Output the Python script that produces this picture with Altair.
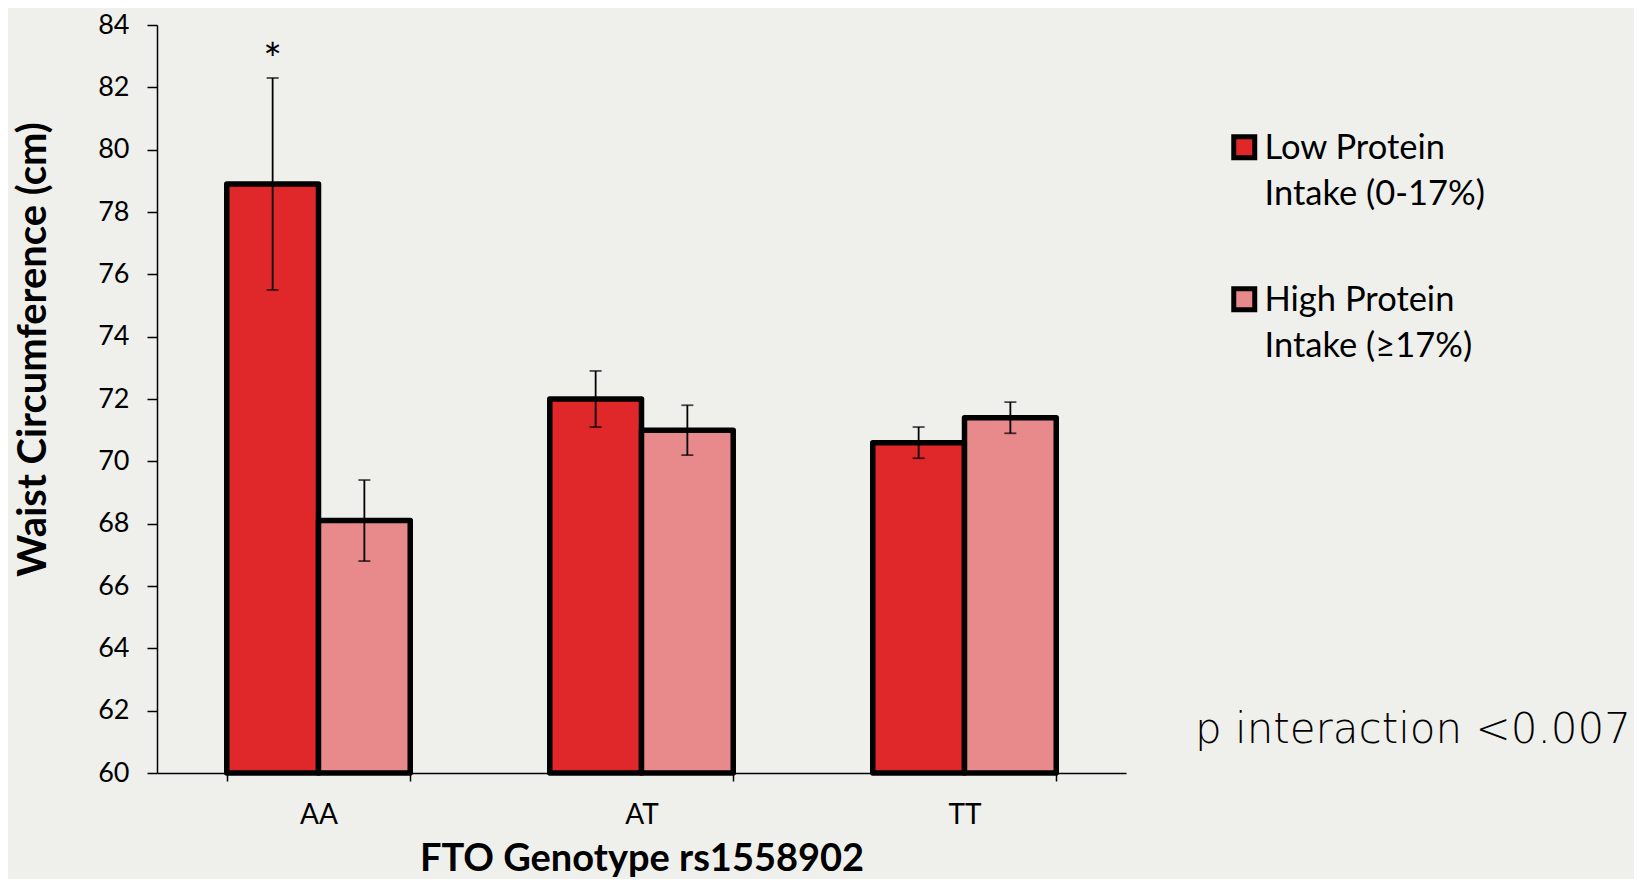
import altair as alt
import pandas as pd

genotypes = ["AA", "AT", "TT"]
groups = ["Low Protein|Intake (0-17%)", "High Protein|Intake (≥17%)"]
low_mean = [78.9, 72.0, 70.6]
low_hi = [82.3, 72.9, 71.1]
low_lo = [75.5, 71.1, 70.1]
high_mean = [68.1, 71.0, 71.4]
high_hi = [69.4, 71.8, 71.9]
high_lo = [66.8, 70.2, 70.9]
low_sig = ["*", "", ""]
high_sig = ["", "", ""]
y_ticks = [60, 62, 64, 66, 68, 70, 72, 74, 76, 78, 80, 82, 84]
colors = ["#E0282A", "#E8898B"]
p_label = ["p interaction <0.007"]

rows = []
for i, g in enumerate(genotypes):
    rows.append(dict(genotype=g, group=groups[0], mean=low_mean[i], lo=low_lo[i],
                     hi=low_hi[i], sig=low_sig[i], base=y_ticks[0]))
    rows.append(dict(genotype=g, group=groups[1], mean=high_mean[i], lo=high_lo[i],
                     hi=high_hi[i], sig=high_sig[i], base=y_ticks[0]))
df = pd.DataFrame(rows)

FONT = "Lato"

x_enc = alt.X(
    "genotype:N", sort=genotypes,
    scale=alt.Scale(paddingInner=0.432, paddingOuter=0.216),
    axis=alt.Axis(
        title="FTO Genotype rs1558902", labelAngle=0, tickBand="extent",
        labelFont=FONT, labelFontSize=28, labelColor="black", labelPadding=20,
        tickSize=8, tickColor="black", tickWidth=1.5,
        domainColor="black", domainWidth=1.5,
        titleFont=FONT, titleFontSize=38, titleFontWeight="bold", titleColor="black",
        titleY=97, titleBaseline="alphabetic",
    ),
)
xo_enc = alt.XOffset("group:N", sort=groups, scale=alt.Scale(paddingInner=0, paddingOuter=0))
y_scale = alt.Scale(domain=[60, 84], nice=False, zero=False)

symbol_path = "M-1,-2.14H1V-0.14H-1Z"

bars = alt.Chart(df).mark_bar(stroke="black", strokeWidth=5.5, strokeJoin="round").encode(
    x=x_enc,
    xOffset=xo_enc,
    y=alt.Y(
        "mean:Q", scale=y_scale,
        axis=alt.Axis(
            title="Waist Circumference (cm)", values=y_ticks, grid=False,
            labelFont=FONT, labelFontSize=27, labelColor="black", labelPadding=18,
            tickSize=10, tickColor="black", tickWidth=1.5,
            domainColor="black", domainWidth=1.5,
            titleFont=FONT, titleFontSize=40, titleFontWeight="bold", titleColor="black",
            titleX=-112, titleY=324, titleBaseline="alphabetic", titleAngle=270,
            titleAlign="center",
        ),
    ),
    y2="base:Q",
    fill=alt.Fill(
        "group:N", sort=groups,
        scale=alt.Scale(domain=groups, range=colors),
        legend=alt.Legend(
            orient="none", legendX=1070, legendY=117, title=None, padding=0,
            labelExpr="split(datum.label, '|')",
            labelFont=FONT, labelFontSize=34.5, labelColor="black",
            labelBaseline="alphabetic", labelLimit=600, labelOffset=3,
            symbolType=symbol_path, symbolSize=441, symbolStrokeColor="black",
            symbolStrokeWidth=5, symbolOpacity=1, rowPadding=66,
        ),
    ),
)

err = alt.Chart(df).mark_rule(color="black", strokeWidth=1.8).encode(
    x=x_enc, xOffset=xo_enc, y=alt.Y("lo:Q", scale=y_scale), y2="hi:Q"
)
cap_hi = alt.Chart(df).mark_tick(color="black", thickness=1.8, size=12, orient="horizontal").encode(
    x=x_enc, xOffset=xo_enc, y=alt.Y("hi:Q", scale=y_scale)
)
cap_lo = alt.Chart(df).mark_tick(color="black", thickness=1.8, size=12, orient="horizontal").encode(
    x=x_enc, xOffset=xo_enc, y=alt.Y("lo:Q", scale=y_scale)
)
star = alt.Chart(df).mark_text(font=FONT, fontSize=44, baseline="alphabetic", dy=-3, color="black").encode(
    x=x_enc, xOffset=xo_enc, y=alt.Y("hi:Q", scale=y_scale), text="sig:N"
)
ptext = alt.Chart(pd.DataFrame({"t": p_label})).mark_text(
    align="left", baseline="alphabetic", font="DejaVu Sans", fontSize=42, fontWeight=300, color="black"
).encode(x=alt.value(1038), y=alt.value(718), text="t:N")

chart = alt.layer(bars, err, cap_hi, cap_lo, star, ptext).properties(
    width=969, height=748,
    padding={"left": 149, "top": 17, "right": 508, "bottom": 106},
    autosize=alt.AutoSizeParams(type="none"),
    background="#EFF0EC",
).configure(
    style={"guide-label": {"lineHeight": 46}},
).configure_view(stroke=None)

chart.save("out.html", embed_options={"renderer": "svg", "actions": False})
